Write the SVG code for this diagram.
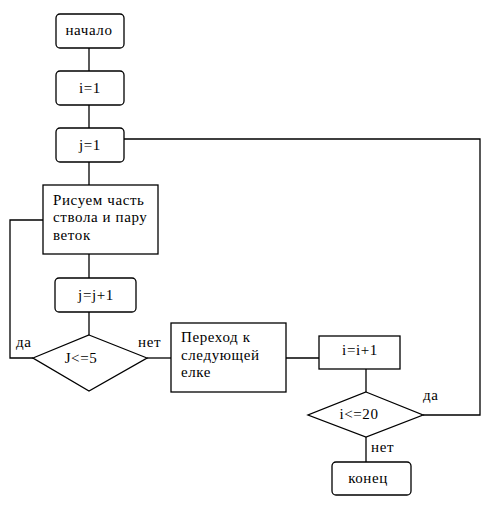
<svg xmlns="http://www.w3.org/2000/svg" width="500" height="512" viewBox="0 0 500 512" font-family="'Liberation Serif', 'DejaVu Serif', serif" font-size="15">
<style>
.n{fill:#fff;stroke:#000;stroke-width:1.3}
.c{fill:none;stroke:#000;stroke-width:1.3}
text{font-family:'Liberation Serif','DejaVu Serif',serif;font-size:15px;fill:#000;letter-spacing:0.6px}
.m{text-anchor:middle}
</style>
<rect width="500" height="512" fill="#fff"/>
<g id="connectors">
<polyline class="c" points="89,48 89,71"/>
<polyline class="c" points="89,105 89,128"/>
<polyline class="c" points="89,162 89,185"/>
<polyline class="c" points="89,254 89,278"/>
<polyline class="c" points="89,312 89,335"/>
<polyline class="c" points="33,358 10,358 10,220 43,220"/>
<polyline class="c" points="147,358 171,358"/>
<polyline class="c" points="286,358 319,358"/>
<polyline class="c" points="366,369 366,392"/>
<polyline class="c" points="423,415 480,415 480,139 124,139"/>
<polyline class="c" points="366,437 366,462"/>
<text x="16" y="347">да</text>
<text x="138" y="347">нет</text>
<text x="423" y="400">да</text>
<text x="371" y="452">нет</text>
</g>
<g id="start"><rect class="n" x="56" y="14" width="68" height="34" rx="4"/><text class="m" x="89" y="35">начало</text></g>
<g id="i1"><rect class="n" x="56" y="71" width="68" height="34" rx="4"/><text class="m" x="90" y="93">i=1</text></g>
<g id="j1"><rect class="n" x="56" y="128" width="68" height="34" rx="4"/><text class="m" x="90" y="150">j=1</text></g>
<g id="draw"><rect class="n" x="43" y="185" width="115" height="69"/>
<text x="53" y="205">Рисуем часть</text><text x="53" y="222">ствола и пару</text><text x="53" y="240">веток</text></g>
<g id="jinc"><rect class="n" x="55" y="278" width="81" height="34" rx="4"/><text class="m" x="96" y="300">j=j+1</text></g>
<g id="cond1"><polygon class="n" points="89,335 147,358 89,391 33,358"/><text class="m" x="81" y="363">J&lt;=5</text></g>
<g id="next"><rect class="n" x="171" y="323" width="115" height="69"/>
<text x="181" y="342">Переход к</text><text x="181" y="360">следующей</text><text x="181" y="377">елке</text></g>
<g id="iinc"><rect class="n" x="319" y="336" width="81" height="33"/><text class="m" x="360" y="355">i=i+1</text></g>
<g id="cond2"><polygon class="n" points="366,392 423,415 366,437 308,415"/><text class="m" x="359" y="419">i&lt;=20</text></g>
<g id="end"><rect class="n" x="332" y="462" width="79" height="33" rx="4"/><text class="m" x="368" y="483">конец</text></g>
</svg>
